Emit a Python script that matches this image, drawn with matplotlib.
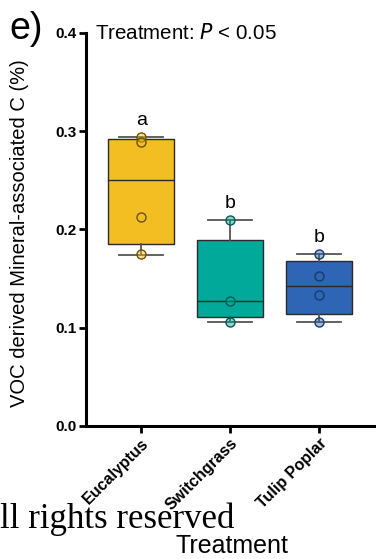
import matplotlib
matplotlib.use('Agg')
import matplotlib.pyplot as plt
from matplotlib.colors import to_rgba

# ---- data ----
categories = ['Eucalyptus', 'Switchgrass', 'Tulip Poplar']
points = [[0.294, 0.289, 0.213, 0.175],
          [0.210, 0.127, 0.1055],
          [0.175, 0.152, 0.133, 0.106]]
q1 = [0.185, 0.111, 0.114]
med = [0.250, 0.127, 0.1425]
q3 = [0.292, 0.189, 0.168]
whislo = [0.174, 0.1055, 0.106]
whishi = [0.294, 0.210, 0.175]
letters = ['a', 'b', 'b']
yticks = [0.0, 0.1, 0.2, 0.3, 0.4]

colors = ['#F2BE22', '#00A99A', '#2F65B5']
edge_dark = ['#6E5200', '#0A5753', '#173A6E']

plt.rcParams['font.family'] = ['Liberation Sans', 'DejaVu Sans']

fig = plt.figure(figsize=(3.76, 5.59), dpi=100)
ax = fig.add_axes([86/376, (559-425.7)/559, 290/376, (425.7-33)/559])

stats = []
for i in range(len(categories)):
    stats.append(dict(med=med[i], q1=q1[i], q3=q3[i], whislo=whislo[i],
                      whishi=whishi[i], fliers=[], label=categories[i]))

pos = list(range(len(categories)))
bp = ax.bxp(stats, positions=pos, widths=0.74, capwidths=0.5, patch_artist=True,
            showfliers=False,
            boxprops=dict(edgecolor='#2a2a2a', linewidth=1.0),
            medianprops=dict(color='#2a2a2a', linewidth=1.0),
            whiskerprops=dict(color='#555555', linewidth=1.3),
            capprops=dict(color='#555555', linewidth=1.3))
for patch, c in zip(bp['boxes'], colors):
    patch.set_facecolor(c)

for i, pts in enumerate(points):
    ax.plot([pos[i]] * len(pts), pts, 'o', ms=6.5, mfc=to_rgba(colors[i], 0.45),
            mec=edge_dark[i], mew=1.0, zorder=5, ls='none')

for i, l in enumerate(letters):
    ax.text(pos[i], whishi[i] + 0.012, l, ha='center', va='baseline', fontsize=14)

ax.set_xlim(-0.62, 2.64)
ax.set_ylim(0, 0.4)
ax.set_yticks(yticks)
ax.set_yticklabels([f'{v:.1f}' for v in yticks], fontweight='bold', fontsize=11)
ax.set_xticks(pos)
ax.set_xticklabels(categories, rotation=45, ha='right', va='top',
                   rotation_mode='anchor', fontweight='bold', fontsize=11.5)
for s in ['top', 'right']:
    ax.spines[s].set_visible(False)
for s in ['left', 'bottom']:
    ax.spines[s].set_linewidth(2.2)
ax.tick_params(axis='both', width=2, length=5, pad=2, color='black')

ax.set_ylabel('VOC derived Mineral-associated C (%)', fontsize=14.5)
ax.yaxis.set_label_coords(-0.197, 0.49)

ax.text(0.03, 1.0, 'Treatment: $\\it{P}$ < 0.05', transform=ax.transAxes,
        ha='left', va='center', fontsize=14.8)

fig.text(9/376, 1 - 39/559, 'e)', fontsize=27, ha='left', va='baseline')
fig.text(232/376, 1 - 553/559, 'Treatment', fontsize=18, ha='center', va='baseline')
fig.text(0, 1 - 528/559, 'll rights reserved', fontsize=25, ha='left',
         va='baseline', family=['Liberation Serif', 'DejaVu Serif'])

fig.savefig('out.png', dpi=100)
